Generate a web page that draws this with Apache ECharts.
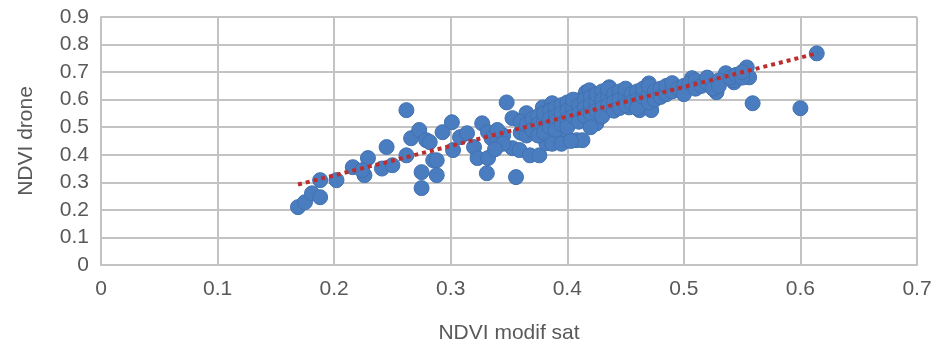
<!DOCTYPE html>
<html>
<head>
<meta charset="utf-8">
<title>NDVI drone vs NDVI modif sat</title>
<script src="https://cdn.jsdelivr.net/npm/echarts@6/dist/echarts.min.js"></script>
<style>
  html, body { margin: 0; padding: 0; background: #fff; }
  #chart { width: 937px; height: 349px; }
</style>
</head>
<body>
<div id="chart"></div>
<script>
// NDVI modif sat (x) and NDVI drone (y)
const satX = [
  0.169, 0.175, 0.181, 0.188, 0.188, 0.202, 0.216, 0.226, 0.229, 0.224,
  0.241, 0.245, 0.250, 0.262, 0.262, 0.266, 0.273, 0.279, 0.275, 0.275,
  0.285, 0.282, 0.288, 0.288, 0.293, 0.301, 0.302, 0.308, 0.314, 0.320,
  0.323, 0.327, 0.331, 0.332, 0.332, 0.335, 0.340, 0.345, 0.348, 0.353,
  0.353, 0.356, 0.359, 0.365, 0.368, 0.370, 0.376, 0.379, 0.382, 0.387,
  0.390, 0.399, 0.408, 0.410, 0.416, 0.413, 0.419, 0.425, 0.428, 0.436,
  0.445, 0.453, 0.462, 0.470, 0.472, 0.482, 0.488, 0.496, 0.507, 0.519,
  0.528, 0.536, 0.543, 0.542, 0.554, 0.556, 0.559, 0.600, 0.614,
  0.360, 0.360, 0.365, 0.365, 0.370, 0.370, 0.375, 0.375, 0.375, 0.380,
  0.380, 0.380, 0.385, 0.385, 0.385, 0.390, 0.390, 0.390, 0.390, 0.395,
  0.395, 0.395, 0.400, 0.400, 0.400, 0.400, 0.405, 0.405, 0.405, 0.410,
  0.410, 0.410, 0.415, 0.415, 0.415, 0.420, 0.420, 0.420, 0.420, 0.425,
  0.425, 0.425, 0.430, 0.430, 0.430, 0.430, 0.435, 0.435, 0.435, 0.440,
  0.440, 0.440, 0.445, 0.445, 0.445, 0.450, 0.450, 0.450, 0.455, 0.455,
  0.460, 0.460, 0.460, 0.465, 0.465, 0.470, 0.470, 0.470, 0.475, 0.475,
  0.480, 0.480, 0.485, 0.485, 0.490, 0.490, 0.495, 0.500, 0.500, 0.505,
  0.510, 0.510, 0.515, 0.520, 0.520, 0.525, 0.530, 0.530, 0.540, 0.545,
  0.550, 0.550, 0.387, 0.395, 0.403, 0.340, 0.345, 0.338
];
const droneY = [
  0.210, 0.228, 0.260, 0.246, 0.308, 0.308, 0.355, 0.326, 0.388, 0.344,
  0.350, 0.428, 0.362, 0.562, 0.398, 0.460, 0.490, 0.453, 0.337, 0.279,
  0.380, 0.446, 0.380, 0.326, 0.482, 0.518, 0.417, 0.464, 0.478, 0.428,
  0.388, 0.514, 0.333, 0.482, 0.388, 0.460, 0.450, 0.470, 0.590, 0.533,
  0.424, 0.319, 0.417, 0.551, 0.398, 0.496, 0.398, 0.572, 0.442, 0.587,
  0.514, 0.464, 0.453, 0.598, 0.627, 0.453, 0.634, 0.514, 0.572, 0.645,
  0.609, 0.572, 0.562, 0.659, 0.562, 0.623, 0.645, 0.634, 0.678, 0.670,
  0.627, 0.696, 0.663, 0.670, 0.717, 0.681, 0.587, 0.569, 0.768,
  0.480, 0.520, 0.470, 0.510, 0.530, 0.490, 0.540, 0.510, 0.470, 0.520,
  0.550, 0.480, 0.560, 0.530, 0.500, 0.570, 0.540, 0.520, 0.490, 0.580,
  0.550, 0.510, 0.590, 0.560, 0.530, 0.500, 0.570, 0.540, 0.600, 0.580,
  0.550, 0.520, 0.600, 0.570, 0.540, 0.610, 0.580, 0.550, 0.500, 0.590,
  0.620, 0.560, 0.630, 0.600, 0.570, 0.540, 0.610, 0.580, 0.640, 0.620,
  0.590, 0.560, 0.630, 0.600, 0.570, 0.610, 0.580, 0.640, 0.620, 0.590,
  0.630, 0.600, 0.570, 0.610, 0.640, 0.620, 0.590, 0.650, 0.630, 0.600,
  0.640, 0.610, 0.620, 0.650, 0.630, 0.660, 0.640, 0.650, 0.620, 0.660,
  0.670, 0.640, 0.650, 0.660, 0.680, 0.640, 0.670, 0.650, 0.680, 0.690,
  0.680, 0.700, 0.440, 0.440, 0.450, 0.490, 0.440, 0.420
];
// dotted linear trend line, end points
const trendX = [0.169, 0.615];
const trendY = [0.292, 0.769];

const xTicks = [0, 0.1, 0.2, 0.3, 0.4, 0.5, 0.6, 0.7];
const yTicks = [0, 0.1, 0.2, 0.3, 0.4, 0.5, 0.6, 0.7, 0.8, 0.9];

const points = satX.map((x, i) => [x, droneY[i]]);
const trend = trendX.map((x, i) => [x, trendY[i]]);

const gridLine = { lineStyle: { color: '#c3c3c3', width: 2 } };
const labelStyle = { color: '#595959', fontSize: 21, fontFamily: 'Liberation Sans, Arial, sans-serif' };

const dom = echarts.init(document.getElementById('chart'));
dom.setOption({
  animation: false,
  backgroundColor: '#fff',
  grid: { left: 101, right: 20, top: 17, bottom: 84 },
  xAxis: {
    type: 'value',
    min: xTicks[0],
    max: xTicks[xTicks.length - 1],
    interval: 0.1,
    name: 'NDVI modif sat',
    nameLocation: 'middle',
    nameGap: 58,
    nameTextStyle: labelStyle,
    axisLine: { show: true, lineStyle: { color: '#c3c3c3', width: 2 } },
    axisTick: { show: false },
    axisLabel: Object.assign({ margin: 14 }, labelStyle),
    splitLine: Object.assign({ show: true }, gridLine)
  },
  yAxis: {
    type: 'value',
    min: yTicks[0],
    max: yTicks[yTicks.length - 1],
    interval: 0.1,
    name: 'NDVI drone',
    nameLocation: 'middle',
    nameRotate: 90,
    nameGap: 64,
    nameTextStyle: labelStyle,
    axisLine: { show: true, lineStyle: { color: '#c3c3c3', width: 2 } },
    axisTick: { show: false },
    axisLabel: Object.assign({ margin: 12 }, labelStyle),
    splitLine: Object.assign({ show: true }, gridLine)
  },
  series: [
    {
      type: 'scatter',
      data: points,
      symbolSize: 15,
      itemStyle: { color: '#4a7dc0', borderColor: '#4271b0', borderWidth: 1, opacity: 1 }
    },
    {
      type: 'line',
      data: trend,
      symbol: 'none',
      z: 5,
      lineStyle: { color: '#bb2d2f', width: 4, type: [4, 4] }
    }
  ]
});
</script>
</body>
</html>
